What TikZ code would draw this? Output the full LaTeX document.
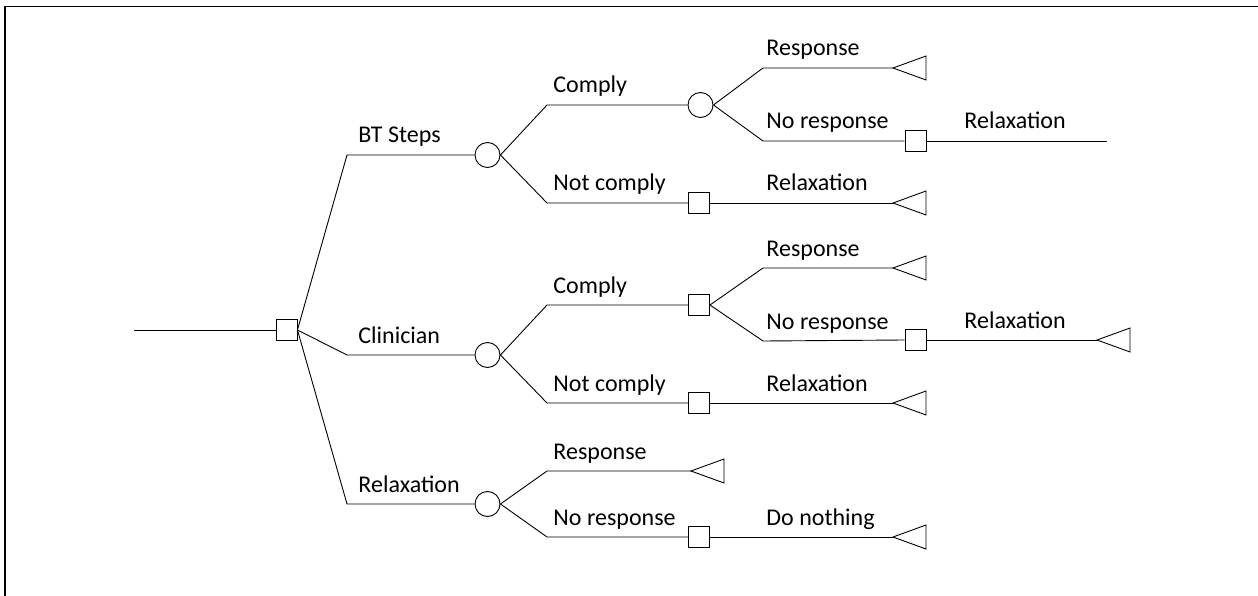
\documentclass[tikz,border=0pt]{standalone}
\usepackage{fontspec}
\setmainfont{Carlito}
\usepackage{xcolor}

\tikzset{
  chance/.style={draw,circle,minimum size=25pt,inner sep=0pt,fill=white},
  choice/.style={draw,rectangle,minimum size=21pt,inner sep=0pt,fill=white},
  lbl/.style={anchor=base west,inner sep=0pt,font=\fontsize{24}{28}\selectfont}
}
\newcommand\leaftri[1]{\draw (#1) -- ++(33,-12) -- ++(0,24) -- cycle;}

\begin{document}
\begin{tikzpicture}[x=1pt,y=-1pt,line width=0.9pt]
\useasboundingbox (0,0) rectangle (1258,596);
\draw[line width=1.1pt] (5,596)-- (5,6.5)-- (1258,6.5);

\coordinate (start) at (134,330);
\node[choice] (d0) at (286.5,330) {};
\node[chance] (c1) at (487.5,155) {};
\node[chance] (c2) at (487.5,355) {};
\node[chance] (c3) at (487.5,504) {};
\node[chance] (c11) at (700.5,105) {};
\node[choice] (d12) at (699,203) {};
\node[choice] (d21) at (699,305) {};
\node[choice] (d22) at (699,403) {};
\node[choice] (d32) at (699,537) {};
\node[choice] (d112) at (915.5,141) {};
\node[choice] (d212) at (915.5,340) {};

\coordinate (b1) at (347,155);
\coordinate (b2) at (347,355);
\coordinate (b3) at (347,504);
\coordinate (b11) at (547,105);
\coordinate (b12) at (547,203);
\coordinate (b21) at (547,305);
\coordinate (b22) at (547,403);
\coordinate (b31) at (547,471);
\coordinate (b32) at (547,537);
\coordinate (b111) at (763,68);
\coordinate (b112) at (763,141);
\coordinate (b211) at (763,268);
\coordinate (b212) at (763,341);

\coordinate (t111) at (893,68);
\coordinate (t112) at (1107,141);
\coordinate (t12) at (893,203);
\coordinate (t211) at (893,268);
\coordinate (t212) at (1097,340);
\coordinate (t22) at (893,403);
\coordinate (t31) at (691,471);
\coordinate (t32) at (893,537);

% first level
\draw (start) -- (d0.west);
\draw (d0.east) -- (b1) -- (c1.west);
\draw (d0.east) -- (b2) -- (c2.west);
\draw (d0.east) -- (b3) -- (c3.west);

% BT Steps
\draw (c1.east) -- (b11) -- (c11.west);
\draw (c1.east) -- (b12) -- (d12.west);
\draw (c11.east) -- (b111) -- (t111);
\draw (c11.east) -- (b112) -- (d112.west);
\draw (d112.east) -- (t112);
\draw (d12.east) -- (t12);

% Clinician
\draw (c2.east) -- (b21) -- (d21.west);
\draw (c2.east) -- (b22) -- (d22.west);
\draw (d21.east) -- (b211) -- (t211);
\draw (d21.east) -- (b212) -- (d212.west);
\draw (d212.east) -- (t212);
\draw (d22.east) -- (t22);

% Relaxation
\draw (c3.east) -- (b31) -- (t31);
\draw (c3.east) -- (b32) -- (d32.west);
\draw (d32.east) -- (t32);

\leaftri{t111}
\leaftri{t12}
\leaftri{t211}
\leaftri{t212}
\leaftri{t22}
\leaftri{t31}
\leaftri{t32}

\node[lbl] (l1) at (358,143) {BT Steps};
\node[lbl] (l2) at (358,343) {Clinician};
\node[lbl] (l3) at (358,492) {Relaxation};
\node[lbl] (l11) at (553,93) {Comply};
\node[lbl] (l12) at (553,191) {Not comply};
\node[lbl] (l111) at (766,56) {Response};
\node[lbl] (l112) at (766,129) {No response};
\node[lbl] (l1121) at (964,129) {Relaxation};
\node[lbl] (l121) at (766,191) {Relaxation};
\node[lbl] (l21) at (553,293) {Comply};
\node[lbl] (l22) at (553,391) {Not comply};
\node[lbl] (l211) at (766,256) {Response};
\node[lbl] (l212) at (766,329) {No response};
\node[lbl] (l2121) at (964,328) {Relaxation};
\node[lbl] (l221) at (766,391) {Relaxation};
\node[lbl] (l31) at (553,459) {Response};
\node[lbl] (l32) at (553,525) {No response};
\node[lbl] (l321) at (766,525) {Do nothing};
\end{tikzpicture}
\end{document}
